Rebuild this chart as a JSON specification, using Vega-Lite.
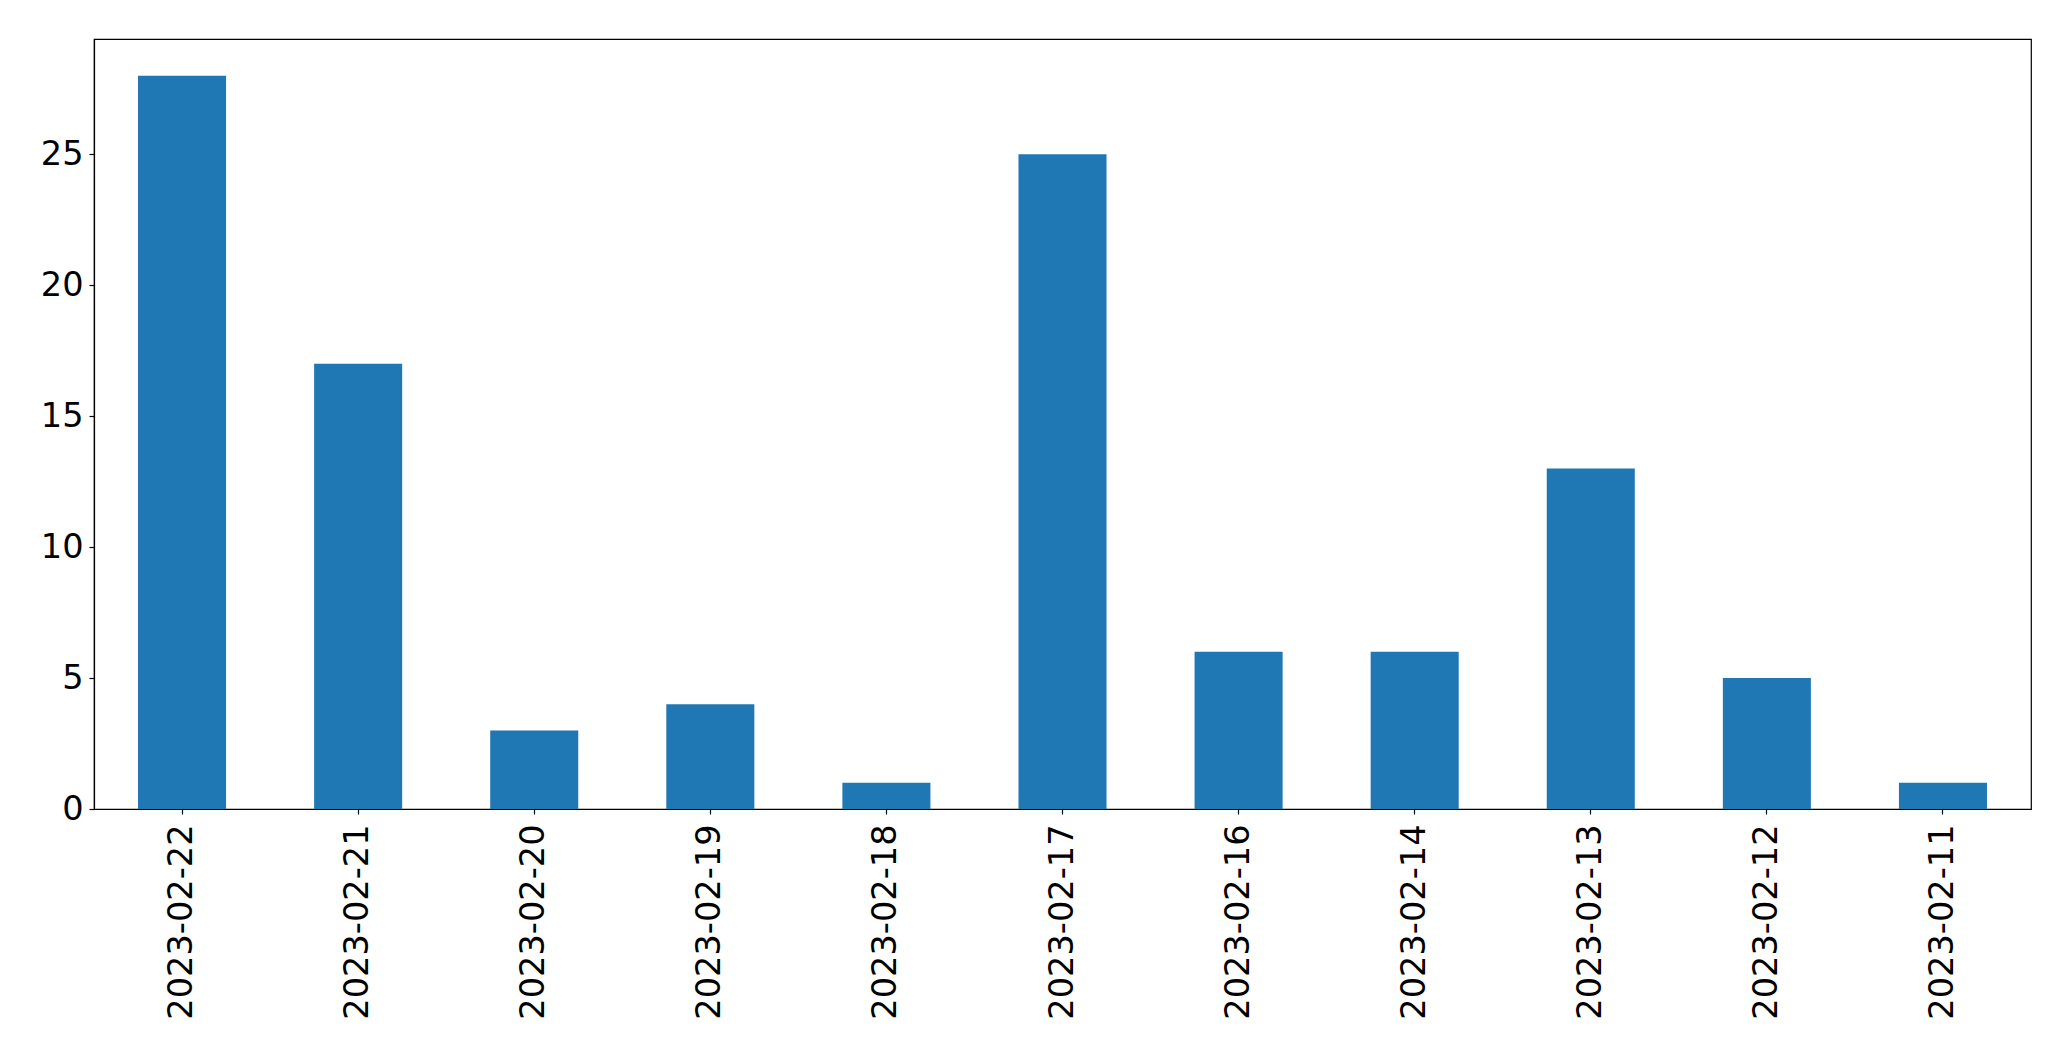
{
  "$schema": "https://vega.github.io/schema/vega-lite/v6.json",
  "width": 1937,
  "height": 770,
  "autosize": {"type": "none"},
  "padding": {"left": 94, "top": 39, "right": 40, "bottom": 252},
  "background": "white",
  "config": {
    "view": {"stroke": "black", "strokeWidth": 1.2},
    "font": "DejaVu Sans"
  },
  "data": {
    "values": [
      {"date": "2023-02-22", "count": 28},
      {"date": "2023-02-21", "count": 17},
      {"date": "2023-02-20", "count": 3},
      {"date": "2023-02-19", "count": 4},
      {"date": "2023-02-18", "count": 1},
      {"date": "2023-02-17", "count": 25},
      {"date": "2023-02-16", "count": 6},
      {"date": "2023-02-14", "count": 6},
      {"date": "2023-02-13", "count": 13},
      {"date": "2023-02-12", "count": 5},
      {"date": "2023-02-11", "count": 1}
    ]
  },
  "mark": {"type": "bar", "color": "#1f77b4"},
  "encoding": {
    "x": {
      "field": "date",
      "type": "nominal",
      "sort": null,
      "scale": {"paddingInner": 0.5, "paddingOuter": 0.25},
      "axis": {
        "title": null,
        "labelAngle": 270,
        "labelFontSize": 33.6,
        "labelLimit": 400,
        "labelColor": "black",
        "labelFont": "DejaVu Sans",
        "labelPadding": 10,
        "tickColor": "black",
        "tickSize": 5,
        "tickWidth": 1.2,
        "domainColor": "black",
        "domainWidth": 1.2,
        "grid": false
      }
    },
    "y": {
      "field": "count",
      "type": "quantitative",
      "scale": {"domain": [0, 29.4], "nice": false, "zero": true},
      "axis": {
        "title": null,
        "values": [0, 5, 10, 15, 20, 25],
        "labelFontSize": 33.6,
        "labelColor": "black",
        "labelFont": "DejaVu Sans",
        "labelPadding": 6,
        "tickColor": "black",
        "tickSize": 5,
        "tickWidth": 1.2,
        "domainColor": "black",
        "domainWidth": 1.2,
        "grid": false
      }
    }
  }
}
